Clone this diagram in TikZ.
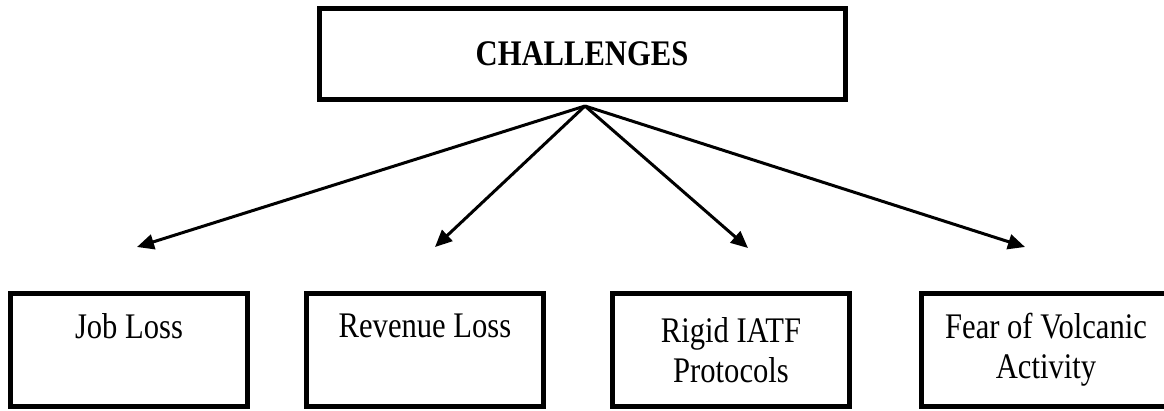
\documentclass[tikz,border=0pt]{standalone}
\usepackage{fontspec}
\setmainfont[FakeStretch=0.85]{Liberation Serif}
\usetikzlibrary{arrows.meta}
\begin{document}
\begin{tikzpicture}[x=1pt,y=-1pt,
  topbox/.style={draw, line width=5pt, minimum width=526pt, minimum height=91pt, inner sep=0pt,
    font=\fontsize{36}{40}\selectfont\bfseries},
  itembox/.style={draw, line width=5pt, minimum width=237pt, minimum height=113pt, inner sep=0pt,
    align=center, font=\fontsize{36}{40}\selectfont},
  link/.style={line width=3pt, -{Triangle[length=17pt,width=15pt]}}]
\path[use as bounding box] (0,0) rectangle (1164,410);
\clip (0,0) rectangle (1164,410);
\node[topbox] (top) at (582,54) {CHALLENGES};
\node[itembox] (b1) at (129,350) {Job Loss\\\vphantom{y}};
\node[itembox] (b2) at (425,350) {Revenue Loss\\\vphantom{y}};
\node[itembox] (b3) at (731,350) {Rigid IATF\\Protocols};
\node[itembox, minimum width=250pt] (b4) at (1046,350) {Fear of Volcanic\\Activity};
\coordinate (apex) at (585,106);
\coordinate (t1) at (137,247);
\coordinate (t2) at (435,247);
\coordinate (t3) at (748,248);
\coordinate (t4) at (1025,247);
\draw[link] (apex) -- (t1);
\draw[link] (apex) -- (t2);
\draw[link] (apex) -- (t3);
\draw[link] (apex) -- (t4);
\end{tikzpicture}
\end{document}
